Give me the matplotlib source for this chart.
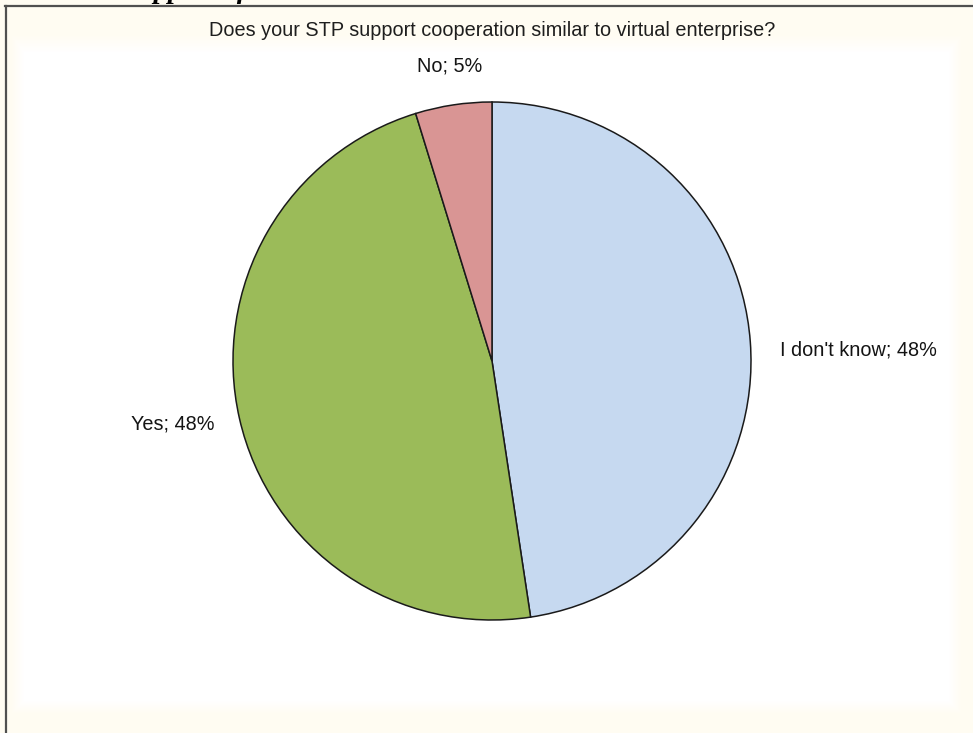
import numpy as np
import matplotlib.pyplot as plt
from matplotlib.lines import Line2D

# survey answers (counts) and how they are shown
answers = ["I don't know", 'Yes', 'No']
counts = [10, 10, 1]
colors = ['#C6D9F0', '#9BBB59', '#D99594']
question = 'Does your STP support cooperation similar to virtual enterprise?'

W, H = 973, 733
fig = plt.figure(figsize=(W / 100, H / 100), dpi=100)
fig.patch.set_facecolor('white')

# thin cream border fading into the white plot area
bg = fig.add_axes([0, 0, 1, 1], zorder=-5)
yy, xx = np.mgrid[0:H, 0:W].astype(float)
w = np.minimum.reduce([
    np.clip((xx - 10) / 14.0, 0, 1),
    np.clip((W - 1 - xx - 10) / 14.0, 0, 1),
    np.clip((yy - 34) / 18.0, 0, 1),
    np.clip((H - 1 - yy - 18) / 14.0, 0, 1),
])[..., None]
cream = np.array([255, 252, 242]) / 255.0
bg.imshow(cream * (1 - w) + 1.0 * w, aspect='auto', interpolation='bilinear')
bg.axis('off')

# frame: top and left edges only
fig.add_artist(Line2D([5 / W, 1], [1 - 5.5 / H] * 2, color='#505050', lw=1.6))
fig.add_artist(Line2D([6 / W] * 2, [0, 1 - 5.5 / H], color='#505050', lw=1.6))

# heading of the page above, cut off by the top edge
fig.text(122 / W, 1 + 1.5 / H, 'Support of', fontsize=20.5, family='Liberation Serif',
         weight='bold', style='italic', ha='left', va='baseline')

fig.text(492 / W, 1 - 30 / H, question, fontsize=14.3, family='Liberation Sans',
         color='#1e1e1e', ha='center', va='center')

r = 259
ax = fig.add_axes([(492 - r) / W, (H - 361 - r) / H, 2 * r / W, 2 * r / H])
total = sum(counts)
labels = [f'{a}; {round(100 * c / total)}%' for a, c in zip(answers, counts)]
wedges, texts = ax.pie(counts, labels=labels, colors=colors, startangle=90,
                       counterclock=False, labeldistance=1.1,
                       wedgeprops=dict(edgecolor='#1a1a1a', linewidth=1.1),
                       textprops=dict(fontsize=14.3, family='Liberation Sans', color='#141414'))
texts[0].set_x(texts[0].get_position()[0] + 0.015)
texts[0].set_y(texts[0].get_position()[1] - 0.04)
texts[2].set_ha('center')
texts[2].set_y(texts[2].get_position()[1] + 0.05)
ax.set_xlim(-1, 1)
ax.set_ylim(-1, 1)
ax.axis('off')

fig.savefig('out.png', dpi=100)
